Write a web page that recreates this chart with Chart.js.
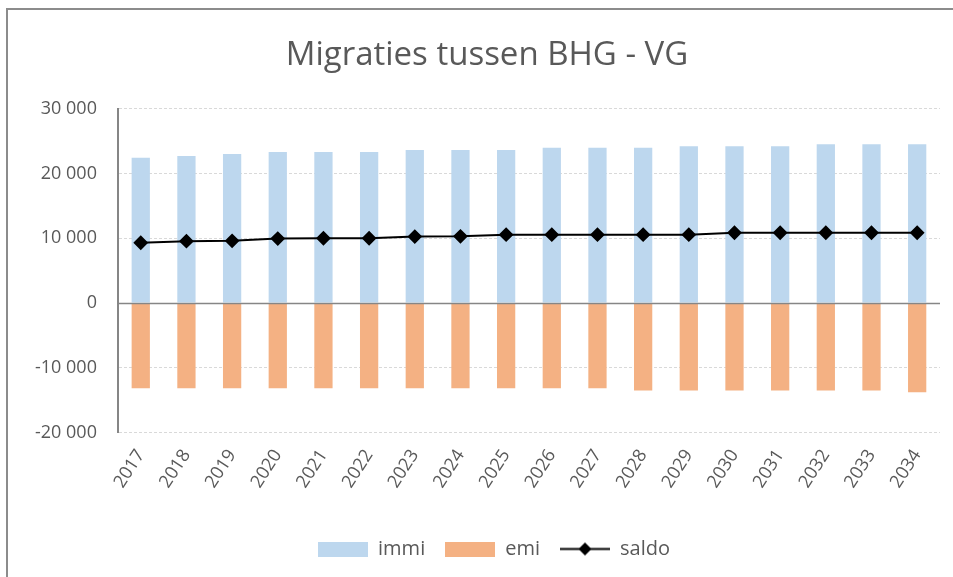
<!DOCTYPE html>
<html>
<head>
<meta charset="utf-8">
<script src="https://cdn.jsdelivr.net/npm/chart.js@4"></script>
<style>
  body { margin: 0; background: #fff; overflow: hidden; }
  #frame { position: absolute; left: 6px; top: 8px; width: 980px; height: 600px;
           border-left: 2px solid #8c8c8c; border-top: 2px solid #8c8c8c; }
  #c { position: absolute; left: 0; top: 0; }
</style>
</head>
<body>
<div id="frame"></div>
<canvas id="c" width="953" height="577"></canvas>
<script>
const years = ['2017', '2018', '2019', '2020', '2021', '2022', '2023', '2024', '2025',
               '2026', '2027', '2028', '2029', '2030', '2031', '2032', '2033', '2034'];
const immi = [22400, 22700, 23000, 23300, 23300, 23300, 23600, 23600, 23600,
              23950, 23950, 23950, 24200, 24200, 24200, 24500, 24500, 24500];
const emi = [-13150, -13150, -13150, -13150, -13150, -13150, -13150, -13150, -13150,
             -13150, -13150, -13500, -13500, -13500, -13500, -13500, -13500, -13750];
const saldo = [9300, 9550, 9600, 9950, 10000, 10000, 10250, 10300, 10550,
               10550, 10550, 10550, 10550, 10850, 10850, 10850, 10850, 10850];
const yTicks = [-20000, -10000, 0, 10000, 20000, 30000];

const grey = '#595959';

function fmt(v) {
  const s = String(Math.abs(v)).replace(/\B(?=(\d{3})+(?!\d))/g, ' ');
  return (v < 0 ? '-' : '') + s;
}

// legend glyphs
function swatch(color) {
  const c = document.createElement('canvas');
  c.width = 50; c.height = 15;
  const g = c.getContext('2d');
  g.fillStyle = color;
  g.fillRect(0, 0, 50, 15);
  return c;
}
function lineGlyph() {
  const c = document.createElement('canvas');
  c.width = 50; c.height = 15;
  const g = c.getContext('2d');
  g.strokeStyle = '#000';
  g.lineWidth = 2;
  g.beginPath(); g.moveTo(0, 7.5); g.lineTo(50, 7.5); g.stroke();
  g.fillStyle = '#000';
  g.beginPath(); g.moveTo(25, 1); g.lineTo(31.5, 7.5); g.lineTo(25, 14); g.lineTo(18.5, 7.5); g.closePath(); g.fill();
  return c;
}
const glyphs = [swatch('#BDD7EE'), swatch('#F4B183'), lineGlyph()];

// solid axis line at zero, drawn before the saldo line
const zeroLine = {
  id: 'zeroLine',
  beforeDatasetDraw(chart, args) {
    if (args.index !== 2) return;
    const {ctx, chartArea} = chart;
    const y = Math.round(chart.scales.y.getPixelForValue(0)) + 0.5;
    ctx.save();
    ctx.strokeStyle = '#868686';
    ctx.lineWidth = 1.5;
    ctx.beginPath();
    ctx.moveTo(chartArea.left, y);
    ctx.lineTo(chartArea.right, y);
    ctx.stroke();
    ctx.restore();
  }
};

// title and legend sit a little right of the canvas centre in the original
const nudge = {
  id: 'nudge',
  afterLayout(chart) {
    chart.titleBlock.left += 10; chart.titleBlock.right += 10;
    chart.legend.left += 17; chart.legend.right += 17;
  }
};

new Chart(document.getElementById('c'), {
  type: 'bar',
  data: {
    labels: years,
    datasets: [
      { label: 'immi', data: immi, backgroundColor: '#BDD7EE', grouped: false, barPercentage: 0.8, categoryPercentage: 0.5, order: 2 },
      { label: 'emi', data: emi, backgroundColor: '#F4B183', grouped: false, barPercentage: 0.8, categoryPercentage: 0.5, order: 2 },
      { label: 'saldo', type: 'line', data: saldo, borderColor: '#000', backgroundColor: '#000',
        borderWidth: 2, pointStyle: 'rectRot', pointRadius: 6, pointHoverRadius: 6, order: 1 }
    ]
  },
  options: {
    responsive: false,
    animation: false,
    layout: { padding: { left: 14, right: 13, top: 36, bottom: 8 } },
    plugins: {
      title: {
        display: true,
        text: 'Migraties tussen BHG - VG',
        color: grey,
        font: { family: 'Open Sans', size: 33, weight: 'normal' },
        padding: { top: 0, bottom: 33 }
      },
      legend: {
        position: 'bottom',
        labels: {
          color: grey,
          font: { family: 'Open Sans', size: 20 },
          usePointStyle: true,
          pointStyleWidth: 50,
          boxHeight: 15,
          padding: 20,
          generateLabels: (chart) => chart.data.datasets.map((ds, i) => ({
            text: ds.label,
            pointStyle: glyphs[i],
            fontColor: grey,
            fillStyle: 'transparent',
            strokeStyle: 'transparent',
            lineWidth: 0,
            hidden: false,
            datasetIndex: i
          }))
        }
      },
      tooltip: { enabled: false }
    },
    scales: {
      x: {
        grid: { display: false },
        border: { display: false },
        afterFit: (scale) => { scale.height += 22; },
        ticks: { color: grey, font: { family: 'Open Sans', size: 18 }, minRotation: 57, maxRotation: 57, padding: 5 }
      },
      y: {
        min: -20000,
        max: 30000,
        afterBuildTicks: (axis) => { axis.ticks = yTicks.map(v => ({ value: v })); },
        grid: { color: '#d9d9d9', drawTicks: false, lineWidth: 1 },
        border: { display: true, color: '#868686', width: 2, dash: [3, 2] },
        ticks: { color: grey, font: { family: 'Open Sans', size: 18 }, padding: 21, callback: (v) => fmt(v) }
      }
    }
  },
  plugins: [zeroLine, nudge]
});
</script>
</body>
</html>
